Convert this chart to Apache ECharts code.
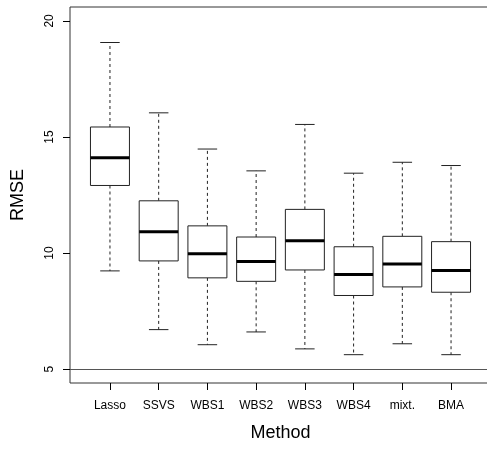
<!DOCTYPE html>
<html>
<head>
<meta charset="utf-8">
<script src="https://cdn.jsdelivr.net/npm/echarts@6/dist/echarts.min.js"></script>
<style>
  html, body { margin: 0; padding: 0; background: #fff; }
  #main { width: 487px; height: 449px; }
</style>
</head>
<body>
<div id="main"></div>
<script>
let methods = ['Lasso', 'SSVS', 'WBS1', 'WBS2', 'WBS3', 'WBS4', 'mixt.', 'BMA'];
let lower  = [9.23, 6.70, 6.05, 6.60, 5.87, 5.62, 6.09, 5.62];
let q1     = [12.91, 9.66, 8.93, 8.78, 9.27, 8.17, 8.54, 8.31];
let median = [14.10, 10.92, 9.97, 9.64, 10.53, 9.07, 9.53, 9.25];
let q3     = [15.43, 12.25, 11.17, 10.69, 11.88, 10.27, 10.72, 10.49];
let upper  = [19.07, 16.04, 14.48, 13.54, 15.54, 13.44, 13.91, 13.77];
let yTicks = [5, 10, 15, 20];
let refLine = 5;

let font = 'Liberation Sans, Arial, Helvetica, sans-serif';
let lineColor = '#222';

let myChart = echarts.init(document.getElementById('main'));

// one row per box: position, lower, q1, median, q3, upper
let boxData = methods.map((m, i) => [i + 1, lower[i], q1[i], median[i], q3[i], upper[i]]);

function renderBox(params, api) {
    let x = api.value(0);
    let half = api.size([0.4, 0])[0];
    let pLow = api.coord([x, api.value(1)]);
    let pQ1 = api.coord([x, api.value(2)]);
    let pMed = api.coord([x, api.value(3)]);
    let pQ3 = api.coord([x, api.value(4)]);
    let pUp = api.coord([x, api.value(5)]);
    let cx = pMed[0];
    let thin = { stroke: lineColor, lineWidth: 1, fill: null };
    let dashed = { stroke: lineColor, lineWidth: 1, lineDash: [3, 3] };
    return {
        type: 'group',
        children: [
            { type: 'line', shape: { x1: cx, y1: pQ3[1], x2: cx, y2: pUp[1] }, style: dashed },
            { type: 'line', shape: { x1: cx, y1: pQ1[1], x2: cx, y2: pLow[1] }, style: dashed },
            { type: 'line', shape: { x1: cx - half / 2, y1: pUp[1], x2: cx + half / 2, y2: pUp[1] }, style: thin },
            { type: 'line', shape: { x1: cx - half / 2, y1: pLow[1], x2: cx + half / 2, y2: pLow[1] }, style: thin },
            { type: 'rect', shape: { x: cx - half, y: pQ3[1], width: half * 2, height: pQ1[1] - pQ3[1] },
              style: { stroke: lineColor, lineWidth: 1, fill: '#fff' } },
            { type: 'line', shape: { x1: cx - half, y1: pMed[1], x2: cx + half, y2: pMed[1] },
              style: { stroke: '#000', lineWidth: 3 } }
        ]
    };
}

myChart.setOption({
    animation: false,
    backgroundColor: '#fff',
    textStyle: { fontFamily: font },
    grid: {
        left: 70,
        top: 7,
        width: 421,
        height: 376,
        show: true,
        borderColor: '#333',
        borderWidth: 1,
        outerBoundsMode: 'none'
    },
    xAxis: {
        type: 'value',
        min: 0.18,
        max: 8.82,
        name: 'Method',
        nameLocation: 'middle',
        nameGap: 41,
        nameTextStyle: { fontSize: 18, color: '#000', fontFamily: font },
        axisLine: { show: false },
        axisTick: { show: true, length: 7, customValues: methods.map((m, i) => i + 1), lineStyle: { color: '#000' } },
        axisLabel: {
            customValues: methods.map((m, i) => i + 1),
            formatter: v => methods[Math.round(v) - 1],
            fontSize: 12,
            color: '#000',
            margin: 17,
            fontFamily: font
        },
        splitLine: { show: false }
    },
    yAxis: {
        type: 'value',
        min: 4.4,
        max: 20.6,
        name: 'RMSE',
        nameLocation: 'middle',
        nameGap: 43,
        nameTextStyle: { fontSize: 18, color: '#000', fontFamily: font },
        axisLine: { show: false },
        axisTick: { show: true, length: 7, customValues: yTicks, lineStyle: { color: '#000' } },
        axisLabel: {
            customValues: yTicks,
            rotate: 90,
            fontSize: 12,
            color: '#000',
            margin: 14,
            fontFamily: font
        },
        splitLine: { show: false }
    },
    series: [{
        type: 'custom',
        renderItem: renderBox,
        data: boxData,
        encode: { x: 0, y: [1, 2, 3, 4, 5] },
        markLine: {
            silent: true,
            symbol: 'none',
            label: { show: false },
            lineStyle: { color: '#555', type: 'solid', width: 1 },
            data: [{ yAxis: refLine }]
        }
    }]
});
</script>
</body>
</html>
